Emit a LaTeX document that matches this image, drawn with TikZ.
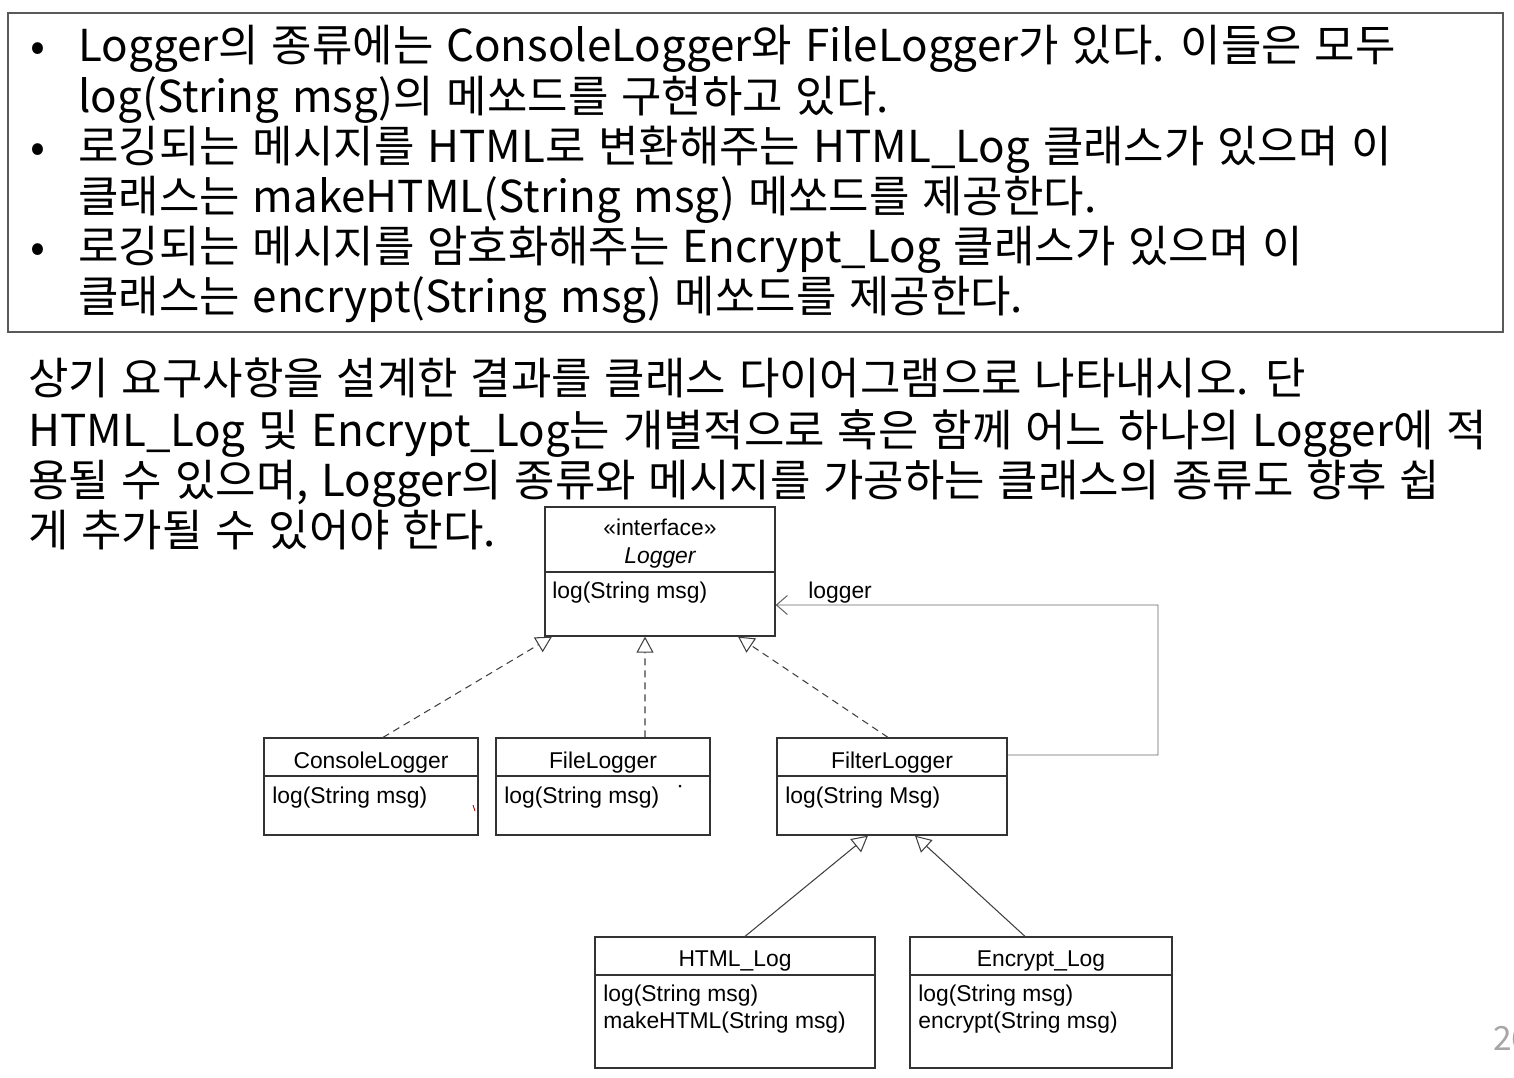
\documentclass[tikz,border=0pt]{standalone}
\usepackage{fontspec}
\setmainfont{Liberation Sans}
\newfontfamily\krfont[WordSpace=1.3]{Noto Sans CJK KR}
\usetikzlibrary{arrows.meta}
\usetikzlibrary{fit}

\tikzset{
	kr/.style={font=\krfont\fontsize{25}{30}\selectfont, anchor=base west, inner sep=0pt},
	uml/.style={font=\fontsize{13}{15}\selectfont, inner sep=0pt},
	cls/.style={draw=black!80, line width=0.7pt, inner sep=0pt},
	realize/.style={draw=black!75, line width=0.6pt, dash pattern=on 1.4mm off 1mm,
		-{Triangle[open, length=3.2mm, width=3.4mm, line width=0.6pt]}},
	inherit/.style={draw=black!75, line width=0.6pt,
		-{Triangle[open, length=3.2mm, width=3.4mm, line width=0.6pt]}},
	assoc/.style={draw=black!60, line width=0.5pt,
		-{Straight Barb[length=2.2mm, width=3.8mm, line width=0.6pt]}}
}

\begin{document}
\begin{tikzpicture}[x=0.2mm, y=-0.2mm]
\useasboundingbox (0,0) rectangle (1514,1078);
%/*

% requirements box
\draw[draw=black!65, line width=1.1pt] (8,13) rectangle (1503,332);
\foreach \y in {62,162,262}
	\node[kr] at (30,\y) {•};
\node[kr] (r1) at (78,62) {Logger의 종류에는 ConsoleLogger와 FileLogger가 있다. 이들은 모두};
\node[kr] (r2) at (78,112) {log(String msg)의 메쏘드를 구현하고 있다.};
\node[kr] (r3) at (78,162) {로깅되는 메시지를 HTML로 변환해주는 HTML\_Log 클래스가 있으며 이};
\node[kr] (r4) at (78,212) {클래스는 makeHTML(String msg) 메쏘드를 제공한다.};
\node[kr] (r5) at (78,262) {로깅되는 메시지를 암호화해주는 Encrypt\_Log 클래스가 있으며 이};
\node[kr] (r6) at (78,312) {클래스는 encrypt(String msg) 메쏘드를 제공한다.};

% question
\node[kr] (q1) at (28,394) {상기 요구사항을 설계한 결과를 클래스 다이어그램으로 나타내시오. 단};
\node[kr] (q2) at (28,446) {HTML\_Log 및 Encrypt\_Log는 개별적으로 혹은 함께 어느 하나의 Logger에 적};
\node[kr] (q3) at (28,496) {용될 수 있으며, Logger의 종류와 메시지를 가공하는 클래스의 종류도 향후 쉽};
\node[kr] (q4) at (28,546) {게 추가될 수 있어야 한다.};

% classes
\node[cls, fit={(545,507) (775,636)}] (log) {};
\draw[cls] (545,572) -- (775,572);
\node[uml, anchor=base] at (660,535) {«interface»};
\node[uml, anchor=base] at (660,563) {\itshape Logger};
\node[uml, anchor=base west] at (552,598) {log(String msg)};

\node[cls, fit={(264,738) (478,835)}] (con) {};
\draw[cls] (264,776) -- (478,776);
\node[uml, anchor=base] at (371,768) {ConsoleLogger};
\node[uml, anchor=base west] at (272,803) {log(String msg)};

\node[cls, fit={(496,738) (710,835)}] (fil) {};
\draw[cls] (496,776) -- (710,776);
\node[uml, anchor=base] at (603,768) {FileLogger};
\node[uml, anchor=base west] at (504,803) {log(String msg)};

\node[cls, fit={(777,738) (1007,835)}] (flt) {};
\draw[cls] (777,776) -- (1007,776);
\node[uml, anchor=base] at (892,768) {FilterLogger};
\node[uml, anchor=base west] at (785,803) {log(String Msg)};

\node[cls, fit={(595,937) (875,1068)}] (htm) {};
\draw[cls] (595,975) -- (875,975);
\node[uml, anchor=base] at (735,966) {HTML\_Log};
\node[uml, anchor=base west] at (603,1001) {log(String msg)};
\node[uml, anchor=base west] at (603,1028) {makeHTML(String msg)};

\node[cls, fit={(910,937) (1172,1068)}] (enc) {};
\draw[cls] (910,975) -- (1172,975);
\node[uml, anchor=base] at (1041,966) {Encrypt\_Log};
\node[uml, anchor=base west] at (918,1001) {log(String msg)};
\node[uml, anchor=base west] at (918,1028) {encrypt(String msg)};

% relations
\draw[realize] ([xshift=2.4mm]con.north) -- ([xshift=-21.6mm]log.south);
\draw[realize] ([xshift=8.4mm]fil.north) -- ([xshift=-3mm]log.south);
\draw[realize] ([xshift=-0.8mm]flt.north) -- ([xshift=15.6mm]log.south);
\draw[inherit] ([xshift=2mm]htm.north) -- ([xshift=-4.8mm]flt.south);
\draw[inherit] ([xshift=-3.2mm]enc.north) -- ([xshift=4.6mm]flt.south);

\coordinate (bend) at (1158,605);
\draw[assoc] ([yshift=6.3mm]flt.east) -| (bend) -- ([yshift=-6.7mm]log.east);
\node[uml, anchor=base west] (lbl) at (808,598) {logger};

% stray marks
\fill (680,786) circle (0.3mm);
\draw[red!70!black, line width=0.5pt] (473,805) -- (475,811);

\node[kr, text=black!35, font=\krfont\fontsize{19}{22}\selectfont] (pg) at (1493,1050) {26};
%*/
\end{tikzpicture}
\end{document}
